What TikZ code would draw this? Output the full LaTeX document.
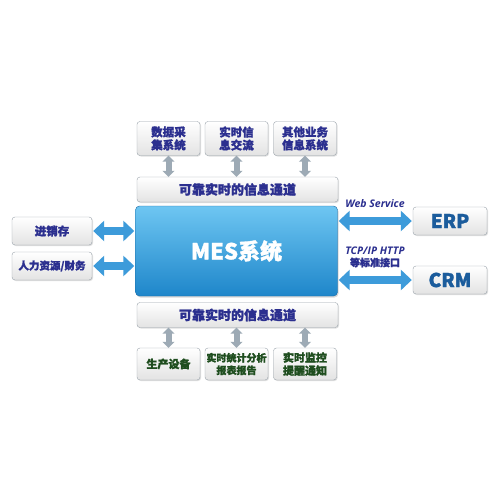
\documentclass[tikz,border=0pt]{standalone}
\usepackage{fontspec}
\usetikzlibrary{positioning, arrows.meta, shadows}
\newfontfamily\cjk{Noto Sans CJK SC}[BoldFeatures={FakeBold=1.5}]
\newfontfamily\lat{Open Sans}
\definecolor{boxline}{HTML}{9AA3AB}
\definecolor{navytext}{HTML}{2B2F8F}
\definecolor{greentext}{HTML}{1E4D1E}
\definecolor{bluetext}{HTML}{1B5C9C}
\definecolor{mestop}{HTML}{6EC6F2}
\definecolor{mesbot}{HTML}{1E86CA}
\definecolor{mesline}{HTML}{1A6AA4}
\definecolor{bluearrow}{HTML}{3D9BDA}
\definecolor{greyarrow}{HTML}{9DAAB5}
\tikzset{
  panel/.style={
    draw=boxline,
    rectangle,
    rounded corners=3pt,
    top color=white,
    bottom color=gray!22,
    align=center,
    inner sep=1pt,
    drop shadow={opacity=0.25, shadow xshift=1pt, shadow yshift=-1pt},
    font=\cjk\bfseries
  },
  topbox/.style={panel, minimum width=63pt, minimum height=34pt, text=navytext, font=\cjk\bfseries\fontsize{11.5}{13}\selectfont},
  botbox/.style={panel, minimum width=63pt, minimum height=32pt, text=greentext, font=\cjk\bfseries\fontsize{11}{13}\selectfont},
  channel/.style={panel, minimum width=201pt, minimum height=25pt, text=navytext, font=\cjk\bfseries\fontsize{13}{15}\selectfont},
  sidebox/.style={panel, minimum width=80pt, minimum height=28pt, text=navytext, font=\cjk\bfseries\fontsize{11.5}{13}\selectfont},
  extbox/.style={panel, minimum width=74pt, minimum height=28pt, text=bluetext, font=\cjk\bfseries\fontsize{19}{21}\selectfont},
  fatlink/.style={
    draw=bluearrow,
    line width=8pt,
    {Triangle[width=20pt, length=11pt]}-{Triangle[width=20pt, length=11pt]},
    shorten <=1pt, shorten >=1pt
  },
  greylink/.style={
    draw=greyarrow,
    line width=6pt,
    {Triangle[width=12pt, length=6pt]}-{Triangle[width=12pt, length=6pt]}
  },
  linklabel/.style={text=navytext, align=center, inner sep=0pt}
}
\begin{document}
\begin{tikzpicture}[x=1pt, y=-1pt]
    \useasboundingbox[fill=white] (0,0) rectangle (500,500);

    % top systems
    \node[topbox] (dacq) at (168.5,138.5) {数据采\\集系统};
    \node[topbox] (rtinfo) at (236.5,138.5) {实时信\\息交流};
    \node[topbox] (other) at (305,138.5) {其他业务\\信息系统};
    \node[channel] (chtop) at (237.5,189.5) {可靠实时的信息通道};

    % core
    \node[draw=mesline, rounded corners=4pt, top color=mestop, bottom color=mesbot,
          minimum width=202pt, minimum height=90pt, text=white,
          drop shadow={opacity=0.3, shadow xshift=1pt, shadow yshift=-1.5pt},
          font=\cjk\bfseries\fontsize{22}{24}\selectfont] (mes) at (236.5,251) {MES系统};

    % bottom devices
    \node[channel] (chbot) at (237.5,315) {可靠实时的信息通道};
    \node[botbox] (prod) at (168.5,364) {生产设备};
    \node[botbox, font=\cjk\bfseries\fontsize{10}{12.5}\selectfont] (stat) at (236.5,364) {实时统计分析\\报表报告};
    \node[botbox] (mon) at (305,364) {实时监控\\提醒通知};

    % left side
    \node[sidebox] (inv) at (52,231) {进销存};
    \node[sidebox, font=\cjk\bfseries\fontsize{10.5}{12}\selectfont] (hr) at (52,266) {人力资源/财务};

    % right side
    \node[extbox] (erp) at (450,221) {ERP};
    \node[extbox] (crm) at (450,280) {CRM};
    \node[linklabel, font=\lat\bfseries\itshape\fontsize{10.5}{11}\selectfont] (ws) at (375,204) {Web Service};
    \node[linklabel, font=\lat\bfseries\itshape\fontsize{10.5}{12}\selectfont] (tcp) at (375,257)
        {TCP/IP HTTP\\{\cjk\upshape\fontsize{10}{11.5}\selectfont 等标准接口}};

    % links
    \foreach \b in {dacq, rtinfo, other}
        \draw[greylink] (\b.south) -- (\b.south |- chtop.north);
    \foreach \b in {prod, stat, mon}
        \draw[greylink] (\b.north |- chbot.south) -- (\b.north);
    \draw[fatlink] (inv.east) -- (inv.east -| mes.west);
    \draw[fatlink] (hr.east) -- (hr.east -| mes.west);
    \draw[fatlink] (mes.east |- erp.west) -- (erp.west);
    \draw[fatlink] (mes.east |- crm.west) -- (crm.west);
\end{tikzpicture}
\end{document}
